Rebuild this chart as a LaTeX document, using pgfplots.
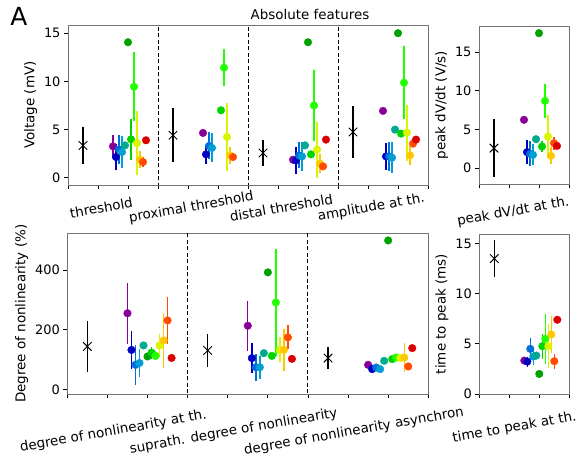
\documentclass[border=0pt]{standalone}
\usepackage{pgfplots}
\pgfplotsset{compat=1.18}
\usepackage{fontspec}
\setmainfont{DejaVu Sans}
\definecolor{c0}{rgb}{0.533,0,0.6}
\definecolor{c1}{rgb}{0,0,0.76}
\definecolor{c2}{rgb}{0,0.43,0.867}
\definecolor{c3}{rgb}{0,0.624,0.82}
\definecolor{c4}{rgb}{0,0.667,0.557}
\definecolor{c5}{rgb}{0,0.636,0}
\definecolor{c6}{rgb}{0,0.83,0}
\definecolor{c7}{rgb}{0.13,1,0}
\definecolor{c8}{rgb}{0.86,0.96,0}
\definecolor{c9}{rgb}{1,0.78,0}
\definecolor{c10}{rgb}{1,0.29,0}
\definecolor{c11}{rgb}{0.867,0,0}
\pgfplotsset{
  panel/.style={scale only axis, anchor=south west,
    axis line style={black!55, line width=0.8bp},
    tick style={black, line width=0.8bp},
    tick align=outside, major tick length=4bp, tick pos=left,
    /pgf/number format/assume math mode=true,
    yticklabel style={font=\fontsize{13}{15}\selectfont},
    ylabel style={font=\fontsize{13.5}{16}\selectfont},
    xticklabel style={font=\fontsize{13.5}{16}\selectfont, rotate=10, anchor=center},
    clip=true},
  cs/.style={#1, only marks, mark=*, mark size=3.8bp, mark options={draw=none, fill=#1},
    error bars/.cd, y dir=both, y explicit, error mark=none,
    error bar style={line width=1.4bp, #1, solid}},
  bx/.style={black, only marks, mark=x, mark size=6bp, mark options={line width=0.9bp},
    error bars/.cd, y dir=both, y explicit, error mark=none,
    error bar style={line width=1.4bp, black, solid}},
  dl/.style={black, dash pattern=on 4bp off 2.5bp, line width=1bp, forget plot}
}
\begin{document}
\begin{tikzpicture}
\useasboundingbox (0,0) rectangle (576bp,460bp);
\node[font=\fontsize{25}{28}\selectfont] at (19bp,444bp) {A};
\node[font=\fontsize{13.5}{16}\selectfont] at (310bp,446bp) {Absolute features};

% top-left
\begin{axis}[panel, at={(68bp,275bp)}, width=360bp, height=160bp,
  xmin=0, xmax=12, ymin=-0.75, ymax=15.85,
  xtick={0,1,2,3,4,5,6,7,8,9,10,11,12},
  xticklabels={,threshold,,,proximal threshold,,,distal threshold,,,amplitude at th.,,},
  xticklabel style={yshift=-19bp},
  ytick={0,5,10,15}, ylabel={Voltage (mV)}]
\addplot[dl] coordinates {(3,-5) (3,20)};
\addplot[dl] coordinates {(6,-5) (6,20)};
\addplot[dl] coordinates {(9,-5) (9,20)};
\addplot[bx] coordinates {(0.5,3.35) +- (0,1.9) (3.5,4.41) +- (0,2.8) (6.5,2.57) +- (0,1.35) (9.5,4.75) +- (0,2.65)};
\addplot[cs=c0] coordinates {(1.5,3.26) +- (0,1.2) (4.5,4.65) +- (0,0) (7.5,1.87) +- (0,0) (10.5,6.94) +- (0,0)};
\addplot[cs=c1] coordinates {(1.6,2.15) +- (0,1.35) (4.6,2.43) +- (0,1.0) (7.6,1.8) +- (0,1.4) (10.6,2.22) +- (0,1.4)};
\addplot[cs=c2] coordinates {(1.7,2.95) +- (0,1.5) (4.7,3.3) +- (0,1.4) (7.7,2.32) +- (0,1.35) (10.7,2.22) +- (0,1.5)};
\addplot[cs=c3] coordinates {(1.8,2.67) +- (0,1.7) (4.8,3.1) +- (0,1.5) (7.8,2.22) +- (0,1.5) (10.8,2.08) +- (0,1.6)};
\addplot[cs=c4] coordinates {(1.9,3.36) +- (0,0) (7.9,3.36) +- (0,0) (10.9,5.0) +- (0,0)};
\addplot[cs=c5] coordinates {(2.0,14.06) +- (0,0) (8.0,14.06) +- (0,0) (11.0,15.0) +- (0,0)};
\addplot[cs=c6] coordinates {(2.1,3.99) +- (0,2.1) (5.1,7.0) +- (0,0) (8.1,2.43) +- (0,0) (11.1,4.58) +- (0,0)};
\addplot[cs=c7] coordinates {(2.2,9.44) +- (0,3.6) (5.2,11.42) +- (0,1.9) (8.2,7.5) +- (0,3.7) (11.2,9.86) +- (0,3.8)};
\addplot[cs=c8] coordinates {(2.3,3.6) +- (0,3.3) (5.3,4.23) +- (0,3.5) (8.3,2.92) +- (0,2.9) (11.3,4.68) +- (0,2.9)};
\addplot[cs=c9] coordinates {(2.4,1.87) +- (0,0.9) (5.4,2.32) +- (0,0.9) (8.4,1.46) +- (0,1.0) (11.4,2.32) +- (0,1.0)};
\addplot[cs=c10] coordinates {(2.5,1.63) +- (0,0.5) (5.5,2.15) +- (0,0) (8.5,1.18) +- (0,0) (11.5,3.54) +- (0,0)};
\addplot[cs=c11] coordinates {(2.6,3.89) +- (0,0) (8.6,3.96) +- (0,0) (11.6,3.96) +- (0,0)};
\end{axis}

% top-right
\begin{axis}[panel, at={(479bp,275.7bp)}, width=90bp, height=158.3bp,
  xmin=0, xmax=3, ymin=-2.09, ymax=18.39,
  xtick={0,1,2,3}, xticklabels={,peak dV/dt at th.,,},
  xticklabel style={yshift=-24bp},
  ytick={0,5,10,15}, ylabel={peak dV/dt (V/s)}]
\addplot[bx] coordinates {(0.5,2.59) +- (0,3.77)};
\addplot[cs=c0] coordinates {(1.5,6.25) +- (0,0.4)};
\addplot[cs=c1] coordinates {(1.6,2.07) +- (0,1.55)};
\addplot[cs=c2] coordinates {(1.7,1.85) +- (0,1.6)};
\addplot[cs=c3] coordinates {(1.8,1.72) +- (0,1.35)};
\addplot[cs=c4] coordinates {(1.9,3.75) +- (0,0)};
\addplot[cs=c5] coordinates {(2.0,17.46) +- (0,0)};
\addplot[cs=c6] coordinates {(2.1,2.8) +- (0,0.75)};
\addplot[cs=c7] coordinates {(2.2,8.7) +- (0,2.15)};
\addplot[cs=c8] coordinates {(2.3,4.09) +- (0,2.8)};
\addplot[cs=c9] coordinates {(2.4,1.59) +- (0,1.1)};
\addplot[cs=c10] coordinates {(2.5,3.23) +- (0,0.85)};
\addplot[cs=c11] coordinates {(2.6,2.88) +- (0,0.4)};
\end{axis}

% bottom-left
\begin{axis}[panel, at={(67.3bp,66bp)}, width=361bp, height=160.7bp,
  xmin=0, xmax=9, ymin=-15.8, ymax=523,
  xtick={0,1,2,3,4,5,6,7,8,9},
  xticklabels={,degree of nonlinearity at th.,,,suprath. degree of nonlinearity,,,degree of nonlinearity asynchron,,},
  xticklabel style={yshift=-34bp},
  ytick={0,200,400}, ylabel={Degree of nonlinearity (\%)}]
\addplot[dl] coordinates {(3,-100) (3,600)};
\addplot[dl] coordinates {(6,-100) (6,600)};
\addplot[bx] coordinates {(0.5,143.5) +- (0,87) (3.5,130) +- (0,56) (6.5,104.5) +- (0,38)};
\addplot[cs=c0] coordinates {(1.5,255) +- (0,102) (4.5,213) +- (0,84) (7.5,82) +- (0,0)};
\addplot[cs=c1] coordinates {(1.6,132) +- (0,65) (4.6,104.5) +- (0,50) (7.6,67.7) +- (0,0)};
\addplot[cs=c2] coordinates {(1.7,82) +- (0,67) (4.7,74) +- (0,45) (7.7,73) +- (0,0)};
\addplot[cs=c3] coordinates {(1.8,88) +- (0,47) (4.8,74) +- (0,38) (7.8,67.7) +- (0,0)};
\addplot[cs=c4] coordinates {(1.9,147) +- (0,0) (4.9,121) +- (0,0) (7.9,95.5) +- (0,0)};
\addplot[cs=c5] coordinates {(2.0,110) +- (0,0) (5.0,392) +- (0,0) (8.0,499) +- (0,0)};
\addplot[cs=c6] coordinates {(2.1,123) +- (0,20) (5.1,112) +- (0,0) (8.1,101) +- (0,0)};
\addplot[cs=c7] coordinates {(2.2,112) +- (0,15) (5.2,291) +- (0,178) (8.2,106.6) +- (0,0)};
\addplot[cs=c8] coordinates {(2.3,147) +- (0,38) (5.3,132) +- (0,42) (8.3,104.5) +- (0,0)};
\addplot[cs=c9] coordinates {(2.4,164) +- (0,92) (5.4,132) +- (0,70) (8.4,106.6) +- (0,50)};
\addplot[cs=c10] coordinates {(2.5,231) +- (0,78) (5.5,174) +- (0,40) (8.5,76.5) +- (0,0)};
\addplot[cs=c11] coordinates {(2.6,105) +- (0,0) (5.6,102) +- (0,0) (8.6,138) +- (0,0)};
\end{axis}

% bottom-right
\begin{axis}[panel, at={(479.3bp,66bp)}, width=90bp, height=160bp,
  xmin=0, xmax=3, ymin=0, ymax=15.95,
  xtick={0,1,2,3}, xticklabels={,time to peak at th.,,},
  xticklabel style={yshift=-30bp},
  ytick={0,5,10,15}, ylabel={time to peak (ms)}]
\addplot[bx] coordinates {(0.5,13.5) +- (0,1.83)};
\addplot[cs=c0] coordinates {(1.5,3.33) +- (0,0)};
\addplot[cs=c1] coordinates {(1.6,3.23) +- (0,0.5)};
\addplot[cs=c2] coordinates {(1.7,4.5) +- (0,1.1)};
\addplot[cs=c3] coordinates {(1.8,3.73) +- (0,0.8)};
\addplot[cs=c4] coordinates {(1.9,3.83) +- (0,0)};
\addplot[cs=c5] coordinates {(2.0,2.0) +- (0,0)};
\addplot[cs=c6] coordinates {(2.1,4.77) +- (0,1.25)};
\addplot[cs=c7] coordinates {(2.2,5.5) +- (0,2.5)};
\addplot[cs=c8] coordinates {(2.3,4.77) +- (0,2.2)};
\addplot[cs=c9] coordinates {(2.4,5.93) +- (0,1.8)};
\addplot[cs=c10] coordinates {(2.5,3.27) +- (0,0.75)};
\addplot[cs=c11] coordinates {(2.6,7.4) +- (0,0)};
\end{axis}
\end{tikzpicture}
\end{document}
